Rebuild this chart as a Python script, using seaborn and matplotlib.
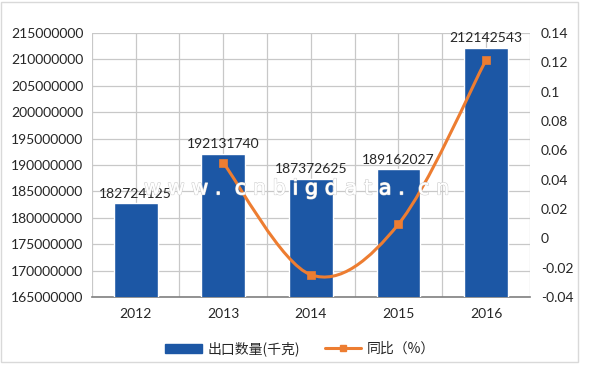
import matplotlib
matplotlib.use("Agg")
import matplotlib.pyplot as plt
import matplotlib.patheffects as pe
import seaborn as sns
import pandas as pd
import numpy as np
from matplotlib.path import Path
from matplotlib.patches import PathPatch, Rectangle
from matplotlib.lines import Line2D
from matplotlib.patches import Patch
from matplotlib.ticker import MultipleLocator, FuncFormatter

years = ["2012", "2013", "2014", "2015", "2016"]
export_qty = [182724125, 192131740, 187372625, 189162027, 212142543]
yoy_years = ["2013", "2014", "2015", "2016"]
yoy = [0.0515, -0.0248, 0.0096, 0.1215]

bar_label = "出口数量(千克)"
line_label = "同比（%）"
watermark = "w w w .  c n b i g d a t a .  c n"

BAR_C = "#1C57A5"
LINE_C = "#ED7D31"
GRID_C = "#C8C8C8"
TXT_C = "#262626"

sns.set_theme(style="white")
plt.rcParams['font.family'] = ['Lato', 'Noto Sans CJK SC', 'DejaVu Sans']

fig = plt.figure(figsize=(6.0, 3.69), dpi=100)
ax = fig.add_axes([0.153, 0.195, 0.730, 0.716])

df = pd.DataFrame({"year": years, "qty": export_qty})
sns.barplot(data=df, x="year", y="qty", color=BAR_C, saturation=1, width=0.5, ax=ax, zorder=3)

ax.set_ylim(165000000, 215000000)
ax.yaxis.set_major_locator(MultipleLocator(5000000))
ax.yaxis.set_major_formatter(FuncFormatter(lambda v, p: f"{v:.0f}"))
ax.set_xlim(-0.5, 4.5)
ax.set_xlabel("")
ax.set_ylabel("")
ax.set_xticks(range(len(years)))
ax.set_xticks(np.arange(-0.5, 4.51, 0.5), minor=True)
ax.grid(True, which="major", axis="y", color=GRID_C, lw=0.9, zorder=0)
ax.grid(True, which="both", axis="x", color=GRID_C, lw=0.9, zorder=0)
ax.set_axisbelow(True)
for s in ["top", "right", "left"]:
    ax.spines[s].set_visible(False)
ax.spines["bottom"].set_color("#7F7F7F")
ax.spines["bottom"].set_linewidth(1.2)
ax.tick_params(axis="both", which="both", length=0, labelsize=10, colors=TXT_C, pad=6)
ax.tick_params(axis="x", pad=8)

for i, v in enumerate(export_qty):
    ax.text(i, v + 700000, str(v), ha="center", va="bottom", fontsize=10, color=TXT_C, zorder=5)

ax2 = ax.twinx()
ax2.set_ylim(-0.04, 0.14)
ax2.yaxis.set_major_locator(MultipleLocator(0.02))
ax2.yaxis.set_major_formatter(FuncFormatter(lambda v, p: format(round(v, 2) + 0.0, "g")))
for s in ["top", "right", "left", "bottom"]:
    ax2.spines[s].set_visible(False)
ax2.tick_params(axis="y", length=0, labelsize=10, colors=TXT_C, pad=8)
ax2.grid(False)

xs = [years.index(y) for y in yoy_years]
pts = list(zip(xs, yoy))
verts = [pts[0]]
codes = [Path.MOVETO]
n = len(pts)
for i in range(n - 1):
    p0 = pts[i - 1] if i > 0 else pts[i]
    p1 = pts[i]
    p2 = pts[i + 1]
    p3 = pts[i + 2] if i + 2 < n else pts[i + 1]
    c1 = (p1[0] + (p2[0] - p0[0]) / 6, p1[1] + (p2[1] - p0[1]) / 6)
    c2 = (p2[0] - (p3[0] - p1[0]) / 6, p2[1] - (p3[1] - p1[1]) / 6)
    verts += [c1, c2, p2]
    codes += [Path.CURVE4] * 3
ax2.add_patch(PathPatch(Path(verts, codes), fill=False, edgecolor=LINE_C, lw=2.2, zorder=4))
sns.scatterplot(x=xs, y=yoy, marker="s", s=36, color=LINE_C, edgecolor=LINE_C, ax=ax2, zorder=5, legend=False)

wm = ax2.text(1.84, 0.034, watermark, ha="center", va="center", fontsize=15, color="white",
              family="DejaVu Sans", zorder=6)
wm.set_path_effects([pe.withStroke(linewidth=1.0, foreground="#D0D0D0"), pe.Normal()])

handles = [Patch(facecolor=BAR_C, edgecolor=BAR_C),
           Line2D([0], [0], color=LINE_C, lw=2.2, marker="s", markersize=5)]
fig.legend(handles, [bar_label, line_label], loc="center", bbox_to_anchor=(0.5, 0.055),
           ncol=2, frameon=False, fontsize=10, handlelength=2.6, handleheight=0.6,
           columnspacing=1.8, handletextpad=0.4,
           prop={"family": ["Noto Sans CJK SC", "DejaVu Sans"], "size": 10})

fig.patches.append(Rectangle((0.002, 0.02), 0.962, 0.975, transform=fig.transFigure,
                             fill=False, edgecolor="#D9D9D9", lw=1))

fig.savefig("out.png", dpi=100)
